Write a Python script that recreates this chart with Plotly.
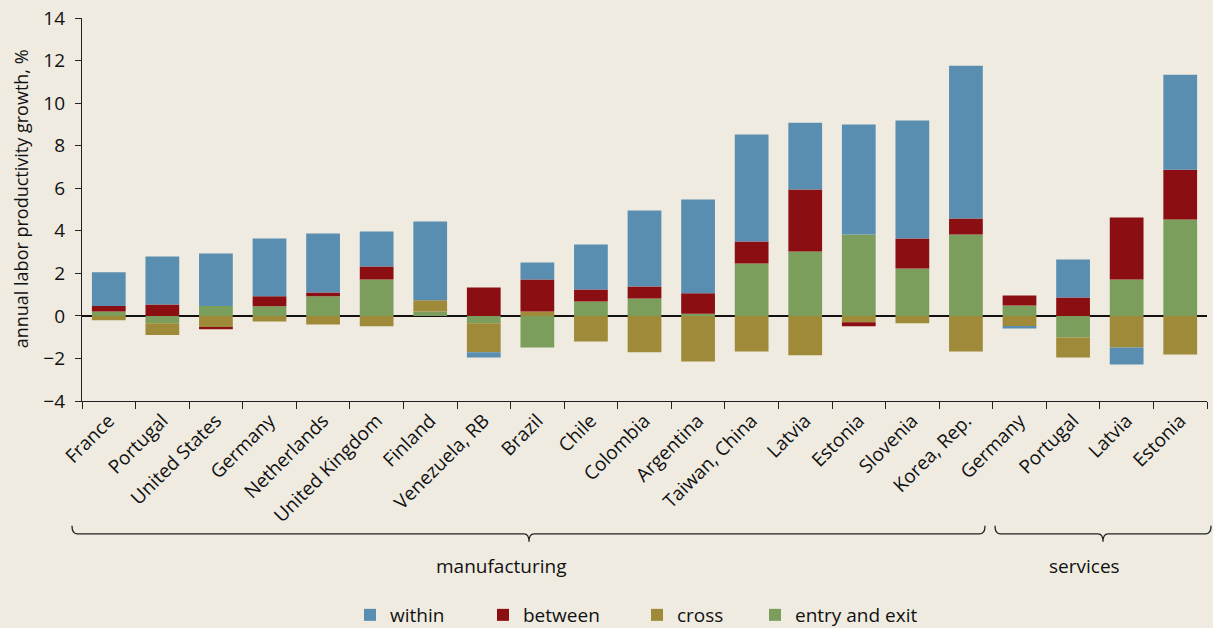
import plotly.graph_objects as go

# Productivity growth decomposition, manufacturing and services
countries = ["France", "Portugal", "United States", "Germany", "Netherlands",
             "United Kingdom", "Finland", "Venezuela, RB", "Brazil", "Chile",
             "Colombia", "Argentina", "Taiwan, China", "Latvia", "Estonia",
             "Slovenia", "Korea, Rep.", "Germany", "Portugal", "Latvia", "Estonia"]

within = [1.59, 2.25, 2.47, 2.72, 2.77, 1.65, 3.71, -0.24, 0.80, 2.12, 3.57,
          4.41, 5.02, 3.14, 5.16, 5.54, 7.18, -0.11, 1.78, -0.80, 4.46]
between = [0.25, 0.54, -0.08, 0.47, 0.18, 0.61, 0.0, 1.34, 1.50, 0.56, 0.56,
           0.96, 1.04, 2.91, -0.19, 1.41, 0.75, 0.47, 0.87, 2.91, 2.34]
cross = [-0.21, -0.55, -0.55, -0.26, -0.40, -0.49, 0.52, -1.36, 0.21, -1.20, -1.71,
         -2.14, -1.67, -1.85, -0.30, -0.35, -1.67, -0.48, -0.94, -1.48, -1.81]
entry_exit = [0.21, -0.35, 0.46, 0.45, 0.92, 1.71, 0.21, -0.35, -1.48, 0.68, 0.82,
              0.10, 2.46, 3.03, 3.83, 2.23, 3.83, 0.49, -1.01, 1.71, 4.53]

FONT = "Open Sans"
BG = "#EFEBE1"
INK = "#111111"
W, H = 1213, 628
pos = list(range(len(countries)))

# plot area in pixels: x 82..1207, y 17.5..401
def px2x(p):
    return (p - 82) / 1125

def px2y(p):
    return (401 - p) / 383.5

fig = go.Figure()
# stacking order: entry/exit, cross, between, within (positives and negatives separately)
fig.add_trace(go.Bar(x=pos, y=entry_exit, name="entry and exit", marker_color="#7B9E5C", legend="legend4"))
fig.add_trace(go.Bar(x=pos, y=cross, name="cross", marker_color="#9E8A38", legend="legend3"))
fig.add_trace(go.Bar(x=pos, y=between, name="between", marker_color="#8B0E13", legend="legend2"))
fig.add_trace(go.Bar(x=pos, y=within, name="within", marker_color="#5A8EB0", legend="legend"))
fig.update_traces(marker_line_width=0, showlegend=True)

def brace(x0, x1, xm, ytop, yline, ytip, r=5):
    pts = [
        f"M{px2x(x0)},{px2y(ytop)}",
        f"Q{px2x(x0)},{px2y(yline)} {px2x(x0 + r)},{px2y(yline)}",
        f"L{px2x(xm - r)},{px2y(yline)}",
        f"Q{px2x(xm)},{px2y(yline)} {px2x(xm)},{px2y(ytip)}",
        f"Q{px2x(xm)},{px2y(yline)} {px2x(xm + r)},{px2y(yline)}",
        f"L{px2x(x1 - r)},{px2y(yline)}",
        f"Q{px2x(x1)},{px2y(yline)} {px2x(x1)},{px2y(ytop)}",
    ]
    return dict(type="path", xref="paper", yref="paper", path=" ".join(pts),
                line=dict(color="#222222", width=1.3))

fig.add_shape(brace(72, 985, 529, 526, 534, 542))
fig.add_shape(brace(995, 1211, 1103, 526, 534, 542))

fig.add_annotation(text="manufacturing", x=px2x(501), y=px2y(566), xref="paper", yref="paper",
                   xanchor="center", yanchor="middle",
                   showarrow=False, font=dict(size=19, color=INK, family=FONT))
fig.add_annotation(text="services", x=px2x(1084), y=px2y(566), xref="paper", yref="paper",
                   xanchor="center", yanchor="middle",
                   showarrow=False, font=dict(size=19, color=INK, family=FONT))
fig.add_annotation(text="annual labor productivity growth, %", textangle=-90,
                   x=px2x(21), y=px2y(199), xref="paper", yref="paper",
                   xanchor="center", yanchor="middle",
                   showarrow=False, font=dict(size=18, color=INK, family=FONT))

def leg(xpx):
    return dict(orientation="h", x=xpx / W, xanchor="left", xref="container",
                y=(H - 615) / H, yanchor="middle", yref="container",
                font=dict(size=19, color=INK), bgcolor="rgba(0,0,0,0)")

fig.update_layout(
    width=W, height=H,
    barmode="relative", bargap=0.37,
    paper_bgcolor=BG, plot_bgcolor=BG,
    margin=dict(l=82, r=6, t=17.5, b=227, autoexpand=False),
    font=dict(family=FONT, color=INK),
    showlegend=True,
    legend=leg(350), legend2=leg(483), legend3=leg(637), legend4=leg(755),
)
fig.update_xaxes(
    range=[-0.5, len(countries) - 0.5], tickmode="array", tickvals=pos, ticktext=countries,
    tickangle=-45, ticks="", tickfont=dict(size=19), showgrid=False, zeroline=False,
    showline=True, linecolor="#222222", linewidth=1.3,
    minor=dict(tickmode="array", tickvals=[p - 0.5 for p in pos] + [len(countries) - 0.5],
               ticks="outside", ticklen=7, tickcolor="#222222", tickwidth=1.3),
)
fig.update_yaxes(
    range=[-4, 14], dtick=2, ticks="outside", ticklen=6, tickcolor="#222222", tickwidth=1.3,
    tickfont=dict(size=19), ticklabelstandoff=6, showgrid=False, showline=True,
    linecolor="#222222", linewidth=1.3,
    zeroline=True, zerolinecolor="#111111", zerolinewidth=1.5,
)

fig.write_html("out.html", config={"displayModeBar": False},
               post_script="document.body.style.margin='0';")
